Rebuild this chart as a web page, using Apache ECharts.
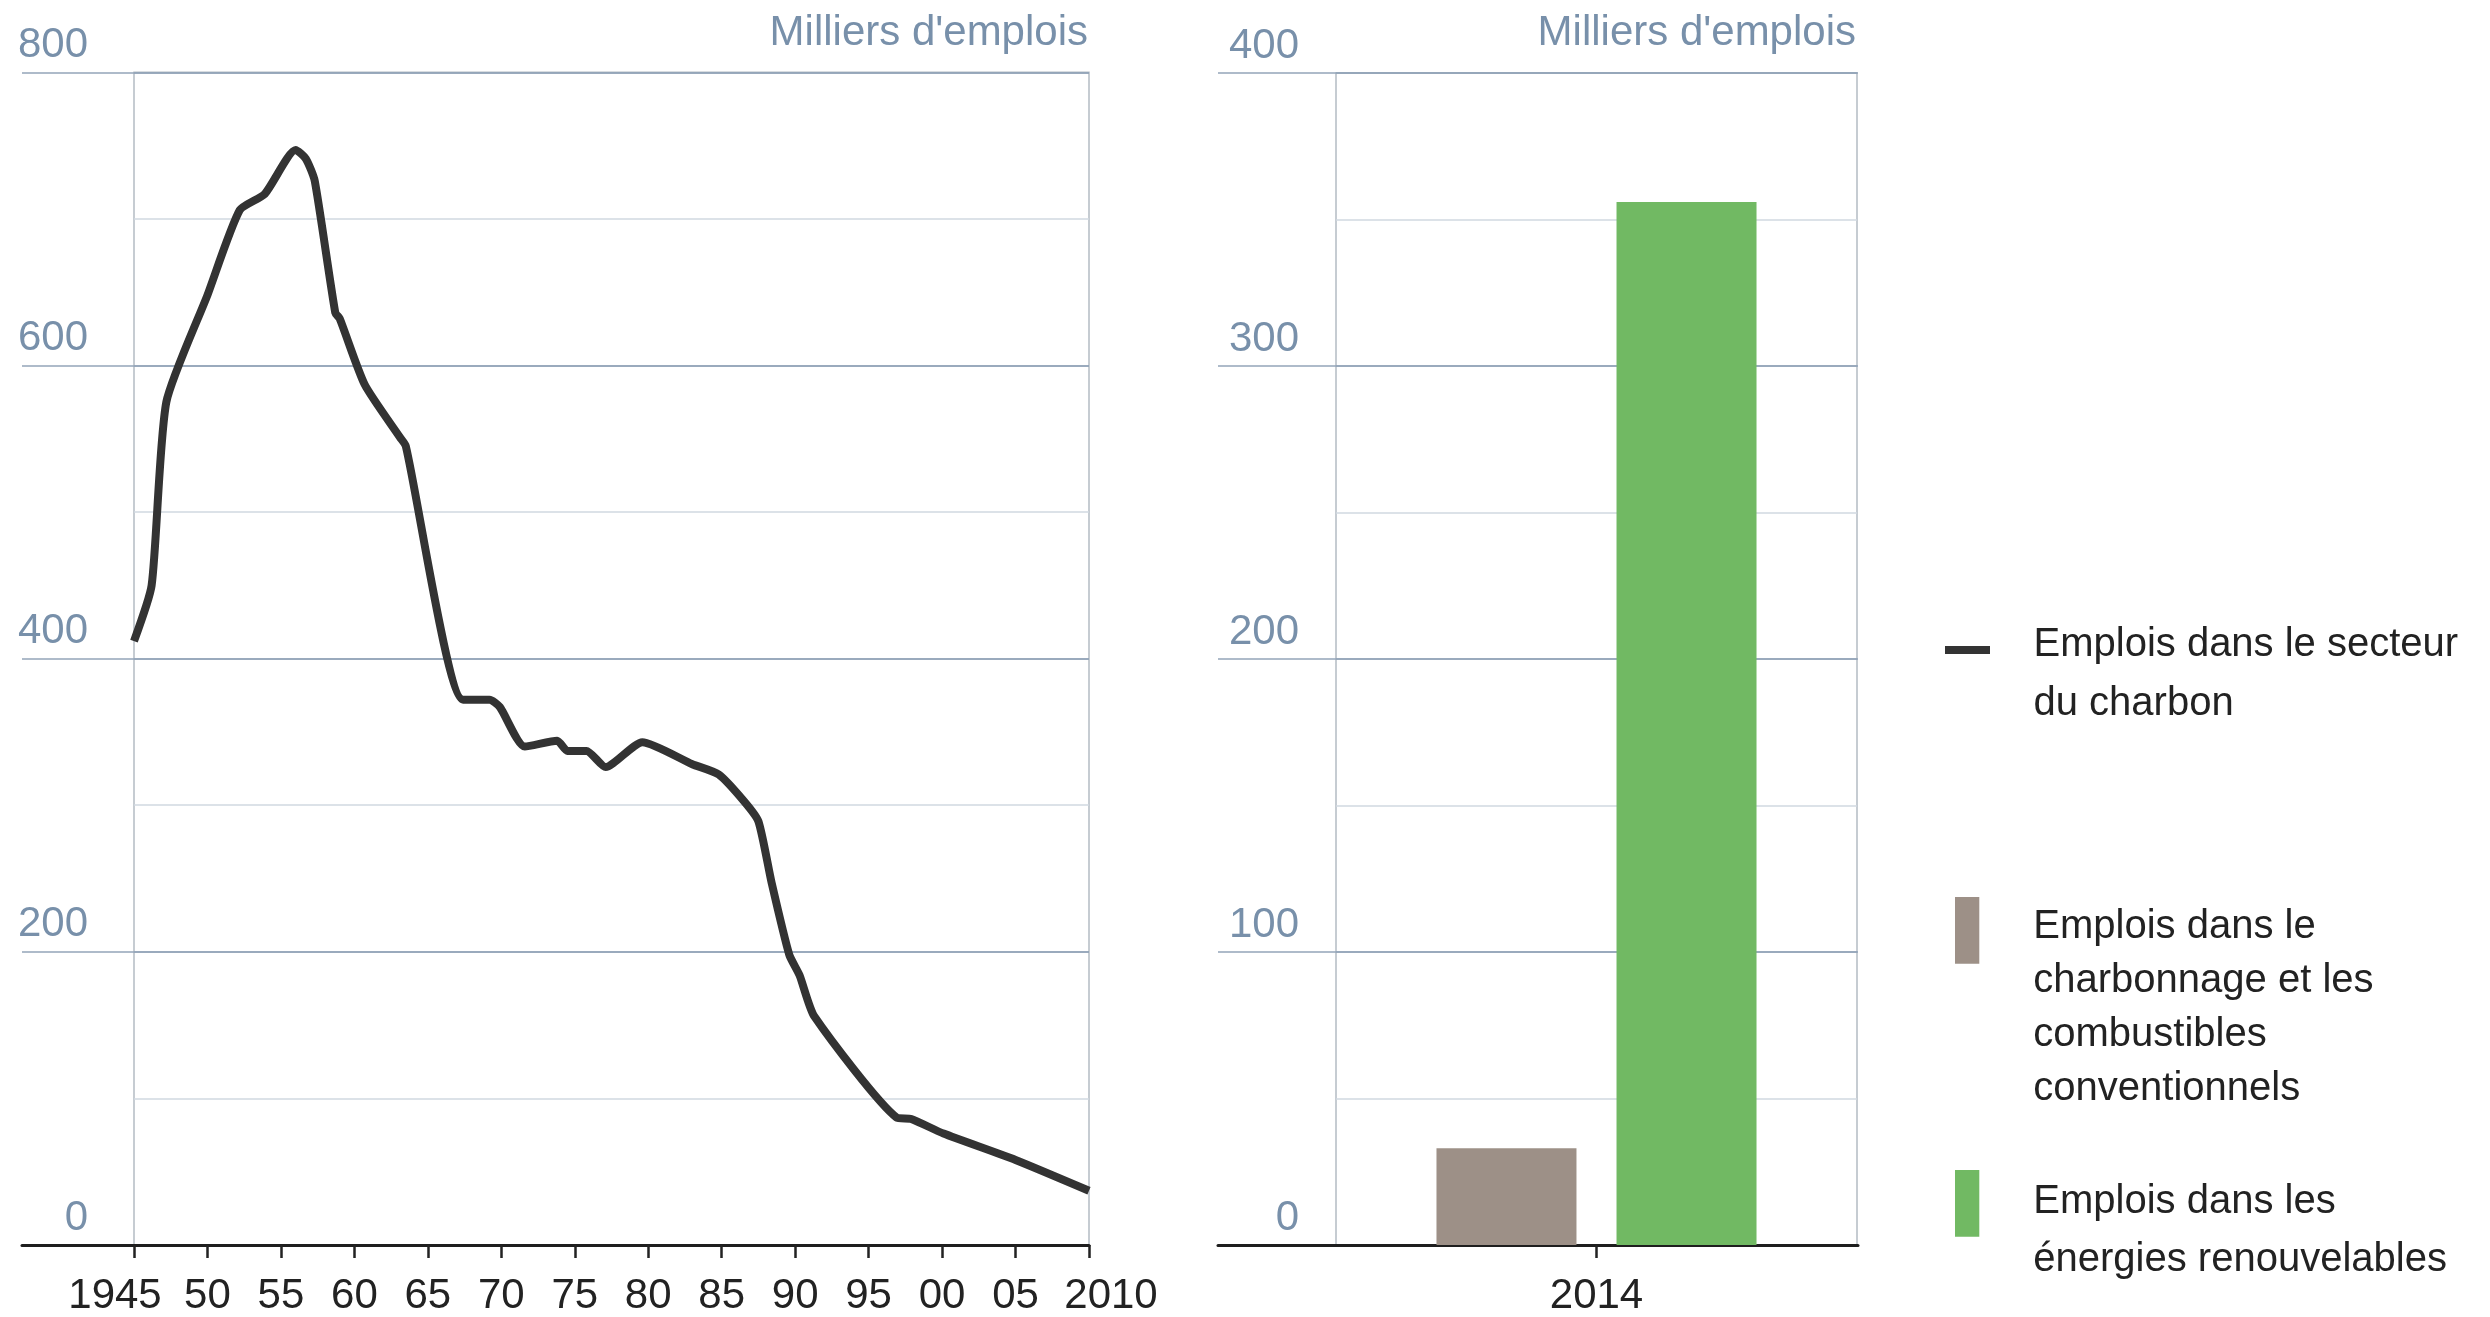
<!DOCTYPE html>
<html><head><meta charset="utf-8">
<script src="https://cdn.jsdelivr.net/npm/echarts@6/dist/echarts.min.js"></script>
<style>html,body{margin:0;padding:0;background:#fff;overflow:hidden}#c{width:2490px;height:1317px}</style>
</head><body><div id="c"></div>
<script>
// ---- data ----
const coalYears = [1945.0, 1946.2, 1947.2, 1950.0, 1952.2, 1953.9, 1956.0, 1956.7, 1957.3, 1958.7, 1959.0, 1960.7, 1963.1, 1963.5, 1967.4, 1969.2, 1969.9, 1971.6, 1973.8, 1974.5, 1975.8, 1977.1, 1979.6, 1983.0, 1984.8, 1986.5, 1987.5, 1988.4, 1989.6, 1990.3, 1991.3, 1996.9, 1997.9, 2000.1, 2005.0, 2010.0];
const coalJobs  = [412, 450, 575, 648, 706, 717, 747, 741, 726, 636, 632, 587, 551, 545, 372, 372, 367, 340, 344, 337, 337, 326, 343, 328, 321, 303, 289, 247, 198, 184, 156, 87, 86, 76, 58, 37];
const xTickLabels = ['1945','50','55','60','65','70','75','80','85','90','95','00','05','2010'];
const leftYTicks = [0, 200, 400, 600, 800];
const rightYTicks = [0, 100, 200, 300, 400];
const barCategories = ['2014'];
const conventionalJobs = [33];
const renewableJobs = [356];
const seriesNames = ['Emplois dans le secteur du charbon', 'Emplois dans le charbonnage et les combustibles conventionnels', 'Emplois dans les énergies renouvelables'];
const legendLines = [['Emplois dans le secteur', 'du charbon'], ['Emplois dans le', 'charbonnage et les', 'combustibles', 'conventionnels'], ['Emplois dans les', 'énergies renouvelables']];
const unitLabel = "Milliers d'emplois";

// ---- styles ----
const FONT = "'Liberation Sans', Arial, sans-serif";
const MAJOR = '#93a5b9', MINOR = '#d0d8e0', FRAME = '#b4bcc4', LABEL = '#7890aa', INK = '#222222';
const LINE = '#333333', GRAY = '#9d9087', GREEN = '#71b963';

const chart = echarts.init(document.getElementById('c'), null, {renderer: 'canvas'});

const bgX = (i) => ({gridIndex: i, type: 'value', min: 0, max: 1, position: 'bottom', axisLine: {show: true, onZero: false, lineStyle: {color: '#1e1e1e', width: 3}}, axisTick: {show: false}, axisLabel: {show: false}, splitLine: {show: false}});
const bgY = (i, max, itv) => ({gridIndex: i, type: 'value', min: 0, max: max, interval: itv, axisLine: {show: false}, axisTick: {show: false}, axisLabel: {show: false}, splitLine: {show: true, lineStyle: {color: MAJOR, width: 1.5}}});

const legendBase = (idx, left, top, w, h, spacer, lh, padLeft, color) => ({
  show: true, left: left, top: top, padding: 0, orient: 'vertical', selectedMode: false,
  itemWidth: w, itemHeight: h,
  data: [{name: seriesNames[idx], icon: 'rect', itemStyle: {color: color, borderWidth: 0}}],
  formatter: () => '{s| }\n' + legendLines[idx].map(t => '{t|' + t + '}').join('\n'),
  textStyle: {fontFamily: FONT, fontSize: 40, color: INK, padding: [0, 0, 0, padLeft],
    rich: {s: {fontSize: 2, lineHeight: spacer}, t: {fontFamily: FONT, fontSize: 40, lineHeight: lh, color: INK}}}
});

const xLabelRich = {
  a: {fontFamily: FONT, fontSize: 42, lineHeight: 42, color: INK, padding: [0, 38, 0, 0]},
  b: {fontFamily: FONT, fontSize: 42, lineHeight: 42, color: INK, padding: [0, 0, 0, 44]}
};

chart.setOption({
  animation: false,
  backgroundColor: '#ffffff',
  title: [
    {text: unitLabel, right: 1402, top: 12, padding: 0, textStyle: {fontFamily: FONT, fontSize: 42, lineHeight: 42, fontWeight: 'normal', color: LABEL}},
    {text: unitLabel, right: 634, top: 12, padding: 0, textStyle: {fontFamily: FONT, fontSize: 42, lineHeight: 42, fontWeight: 'normal', color: LABEL}}
  ],
  legend: [
    legendBase(0, 1945, 590.6, 45, 8, 49.2, 58.4, 38.5, LINE),
    legendBase(1, 1955, 821.5, 24.3, 66.7, 155.3, 53.9, 49, GRAY),
    legendBase(2, 1955, 1144.1, 24.3, 66.7, 55.7, 58.3, 49, GREEN)
  ],
  grid: [
    {left: 22, top: 72.3, width: 1067, height: 1172.7},
    {left: 134, top: 72.3, width: 955, height: 1172.7, show: true, borderColor: FRAME, borderWidth: 1.5, backgroundColor: 'transparent'},
    {left: 1218, top: 73, width: 640, height: 1172},
    {left: 1336, top: 73, width: 521, height: 1172, show: true, borderColor: FRAME, borderWidth: 1.5, backgroundColor: 'transparent'}
  ],
  xAxis: [
    bgX(0),
    // value axis carrying the line (hidden)
    {gridIndex: 1, type: 'value', min: 1945, max: 2010, interval: 5, position: 'bottom', show: false},
    // tick / label axis for the years
    {gridIndex: 1, type: 'category', data: xTickLabels, boundaryGap: false, position: 'bottom',
     axisLine: {show: false, onZero: false}, axisTick: {show: true, interval: 0, length: 13, lineStyle: {color: INK, width: 2.5}},
     splitLine: {show: false},
     axisLabel: {show: true, interval: 0, hideOverlap: false, margin: 30, fontFamily: FONT, fontSize: 42, lineHeight: 42, color: INK,
       formatter: (t, i) => { if (i === 0) return '{a|' + t + '}'; if (i === xTickLabels.length - 1) return '{b|' + t + '}'; return t; },
       rich: xLabelRich}},
    bgX(2),
    {gridIndex: 3, type: 'category', data: barCategories, position: 'bottom',
     axisLine: {show: false, onZero: false}, axisTick: {show: true, alignWithLabel: true, length: 13, lineStyle: {color: INK, width: 2.5}},
     axisLabel: {margin: 30, fontFamily: FONT, fontSize: 42, lineHeight: 42, color: INK}}
  ],
  yAxis: [
    bgY(0, 800, 200),
    {gridIndex: 1, type: 'value', min: 0, max: 800, interval: 100,
     axisLine: {show: false}, axisTick: {show: false},
     splitLine: {show: true, lineStyle: {color: [MAJOR, MINOR], width: 1.5}},
     axisLabel: {show: true, margin: 46, verticalAlign: 'bottom', lineHeight: 54, fontFamily: FONT, fontSize: 42, color: LABEL,
       formatter: (v) => leftYTicks.indexOf(v) >= 0 ? String(v) : ''}},
    bgY(2, 400, 100),
    {gridIndex: 3, type: 'value', min: 0, max: 400, interval: 50,
     axisLine: {show: false}, axisTick: {show: false},
     splitLine: {show: true, lineStyle: {color: [MAJOR, MINOR], width: 1.5}},
     axisLabel: {show: true, margin: 37, verticalAlign: 'bottom', lineHeight: 54, fontFamily: FONT, fontSize: 42, color: LABEL,
       formatter: (v) => rightYTicks.indexOf(v) >= 0 ? String(v) : ''}}
  ],
  series: [
    {name: seriesNames[0], type: 'line', xAxisIndex: 1, yAxisIndex: 1,
     data: coalYears.map((y, i) => [y, coalJobs[i]]),
     showSymbol: false, smooth: 0.2, color: LINE,
     lineStyle: {color: LINE, width: 8, join: 'round', cap: 'butt'}, itemStyle: {color: LINE}, z: 5},
    {name: seriesNames[1], type: 'bar', xAxisIndex: 4, yAxisIndex: 3, data: conventionalJobs,
     barWidth: 140, barGap: '28.6%', itemStyle: {color: GRAY}, color: GRAY},
    {name: seriesNames[2], type: 'bar', xAxisIndex: 4, yAxisIndex: 3, data: renewableJobs,
     barWidth: 140, barGap: '28.6%', itemStyle: {color: GREEN}, color: GREEN}
  ]
});
</script></body></html>
